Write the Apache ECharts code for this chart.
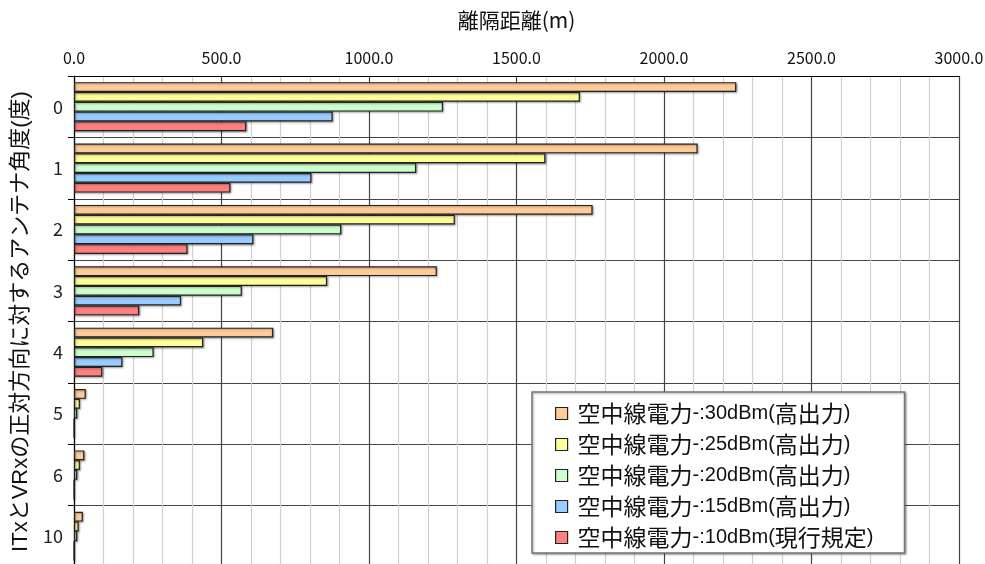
<!DOCTYPE html>
<html>
<head>
<meta charset="utf-8">
<script src="https://cdn.jsdelivr.net/npm/echarts@6/dist/echarts.min.js"></script>
<style>
  html, body { margin: 0; padding: 0; background: #fff; }
  #chart { width: 985px; height: 564px; }
</style>
</head>
<body>
<div id="chart"></div>
<script>
// Antenna angle categories (degrees), top to bottom
const angles = ['0', '1', '2', '3', '4', '5', '6', '10'];

// Separation distance (m) for each transmit power
const names = [
  '空中線電力-:30dBm(高出力)',
  '空中線電力-:25dBm(高出力)',
  '空中線電力-:20dBm(高出力)',
  '空中線電力-:15dBm(高出力)',
  '空中線電力-:10dBm(現行規定)'
];
const dist30 = [2245, 2114, 1758, 1230, 675, 40, 35, 30];
const dist25 = [1715, 1598, 1291, 858, 438, 20, 20, 16];
const dist20 = [1251, 1160, 906, 569, 270, 11, 11, 11];
const dist15 = [877, 805, 608, 363, 164, 0, 0, 0];
const dist10 = [584, 530, 385, 221, 96, 0, 0, 0];

const colors = ['#FFCC99', '#FFFF99', '#CCFFCC', '#99CCFF', '#FF8080'];
const values = [dist30, dist25, dist20, dist15, dist10];

const latinCjk = '"Liberation Sans", "Noto Sans CJK JP", sans-serif';
const cjk = '"Noto Sans CJK JP", sans-serif';

// Split a legend name into CJK and Latin runs so each can get its own size
function richName(name) {
  const runs = name.match(/[\u3000-\u9fff]+|[^\u3000-\u9fff]+/g);
  return runs.map(r => (/[\u3000-\u9fff]/.test(r) ? '{c|' : '{l|') + r + '}').join('');
}

const chart = echarts.init(document.getElementById('chart'), null, { renderer: 'canvas' });

chart.setOption({
  animation: false,
  backgroundColor: '#fff',
  grid: { left: 74, top: 76, width: 885, height: 491, containLabel: false, outerBoundsMode: 'none' },
  legend: {
    orient: 'vertical',
    left: 532,
    top: 392,
    height: 170,
    data: names,
    itemWidth: 12,
    itemHeight: 12,
    itemGap: 8,
    padding: [10, 31, 4, 23],
    backgroundColor: '#fff',
    borderColor: '#777',
    borderWidth: 1.5,
    shadowColor: 'rgba(0,0,0,0.35)',
    shadowBlur: 2,
    shadowOffsetX: 1,
    shadowOffsetY: 1,
    icon: 'rect',
    itemStyle: { borderColor: '#222', borderWidth: 1.2 },
    formatter: richName,
    textStyle: {
      padding: [0, 0, 0, 5],
      color: '#111',
      rich: {
        c: { fontFamily: cjk, fontSize: 23, lineHeight: 20, color: '#111' },
        l: { fontFamily: '"Liberation Sans", sans-serif', fontSize: 20, lineHeight: 20, color: '#111' }
      }
    }
  },
  xAxis: {
    type: 'value',
    position: 'top',
    min: 0,
    max: 3000,
    interval: 500,
    name: '離隔距離(m)',
    nameLocation: 'middle',
    nameGap: 45,
    nameTextStyle: { fontFamily: cjk, fontSize: 21, color: '#111' },
    axisLine: { show: true, lineStyle: { color: '#000', width: 1.2 } },
    axisTick: { show: false },
    axisLabel: {
      margin: 10,
      fontFamily: cjk,
      fontSize: 16,
      color: '#111',
      formatter: v => v.toFixed(1)
    },
    splitLine: { show: true, lineStyle: { color: '#444', width: 1.2 } },
    minorTick: { show: false, splitNumber: 5 },
    minorSplitLine: { show: true, lineStyle: { color: '#cfcfcf', width: 1.2 } }
  },
  yAxis: {
    type: 'category',
    data: angles,
    inverse: true,
    name: 'ITxとVRxの正対方向に対するアンテナ角度(度)',
    nameLocation: 'middle',
    nameRotate: 90,
    nameGap: 36,
    nameTextStyle: { fontFamily: latinCjk, fontSize: 22, color: '#111' },
    axisLine: { show: true, onZero: false, lineStyle: { color: '#000', width: 1.2 } },
    axisTick: { show: true, length: 6, lineStyle: { color: '#000' } },
    axisLabel: { margin: 11, fontFamily: cjk, fontSize: 18, color: '#222' },
    splitLine: { show: true, lineStyle: { color: '#444', width: 1.2 } }
  },
  series: names.map((n, i) => ({
    name: n,
    type: 'bar',
    data: values[i],
    barGap: '0%',
    barCategoryGap: '20%',
    itemStyle: {
      color: colors[i],
      borderColor: '#222',
      borderWidth: 1.2,
      shadowColor: 'rgba(0,0,0,0.35)',
      shadowBlur: 2,
      shadowOffsetX: 1,
      shadowOffsetY: 1
    }
  }))
});
</script>
</body>
</html>
